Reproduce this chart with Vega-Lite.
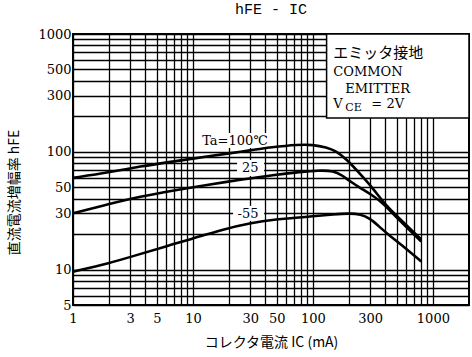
{
  "$schema": "https://vega.github.io/schema/vega-lite/v6.json",
  "width": 396,
  "height": 271,
  "autosize": {"type": "none"},
  "padding": {"left": 73, "top": 34, "right": 3, "bottom": 52},
  "background": "white",
  "title": {"text": "hFE - IC", "font": "Liberation Mono", "fontSize": 15, "fontWeight": "normal", "color": "black", "offset": 11, "anchor": "middle"},
  "config": {
    "view": {"stroke": "black", "strokeWidth": 2},
    "axis": {"gridColor": "black", "gridWidth": 1.3, "gridOpacity": 1, "ticks": false, "domain": false, "labelFont": "DejaVu Serif", "labelFontSize": 13, "labelColor": "black", "labelOverlap": false, "labelFlush": false, "titleColor": "black", "titleFontWeight": "normal", "titleFont": "Noto Sans CJK JP", "titleFontSize": 14}
  },
  "layer": [
    {
      "data": {"values": [
        {"Ic": 11.4, "Ic2": 44, "hFE": 107.7, "hFE2": 144.4},
        {"Ic": 23.3, "Ic2": 39.2, "hFE": 62.3, "hFE2": 85.2},
        {"Ic": 21.6, "Ic2": 39.2, "hFE": 25.9, "hFE2": 34.7}
      ]},
      "mark": {"type": "rect", "fill": "white", "stroke": null},
      "encoding": {
        "x": {"field": "Ic", "type": "quantitative", "scale": {"type": "log", "domain": [1, 2000], "nice": false},
          "axis": {"title": "コレクタ電流  IC (mA)", "grid": true,
            "values": [1,2,3,4,5,6,7,8,9,10,20,30,40,50,60,70,80,90,100,200,300,400,500,600,700,800,900,1000],
            "labelExpr": "indexof([1,3,5,10,30,50,100,300,1000], datum.value) >= 0 ? format(datum.value, 'd') : ''",
            "labelPadding": 7, "titleY": 37, "titleBaseline": "middle"}},
        "x2": {"field": "Ic2"},
        "y": {"field": "hFE", "type": "quantitative", "scale": {"type": "log", "domain": [5, 1000], "nice": false},
          "axis": {"title": "直流電流増幅率  hFE", "grid": true,
            "values": [5,6,7,8,9,10,20,30,40,50,60,70,80,90,100,200,300,400,500,600,700,800,900,1000],
            "labelExpr": "indexof([5,10,30,50,100,300,500,1000], datum.value) >= 0 ? format(datum.value, 'd') : ''",
            "labelPadding": 2, "titleX": -59, "titleY": 158, "titleAlign": "center", "titleBaseline": "middle"}},
        "y2": {"field": "hFE2"}
      }
    },
    {
      "data": {"values": [{"Ic": 130, "Ic2": 2000, "hFE": 194, "hFE2": 1000}]},
      "mark": {"type": "rect", "fill": "white", "stroke": "black", "strokeWidth": 1.5},
      "encoding": {
        "x": {"field": "Ic", "type": "quantitative"},
        "x2": {"field": "Ic2"},
        "y": {"field": "hFE", "type": "quantitative"},
        "y2": {"field": "hFE2"}
      }
    },
    {
      "data": {"values": [
        {"Ta": "100", "Ic": 1, "hFE": 60}, {"Ta": "100", "Ic": 2, "hFE": 67}, {"Ta": "100", "Ic": 3.6, "hFE": 75},
        {"Ta": "100", "Ic": 7, "hFE": 83}, {"Ta": "100", "Ic": 13, "hFE": 91}, {"Ta": "100", "Ic": 25, "hFE": 100},
        {"Ta": "100", "Ic": 47, "hFE": 110}, {"Ta": "100", "Ic": 75, "hFE": 115}, {"Ta": "100", "Ic": 100, "hFE": 115},
        {"Ta": "100", "Ic": 130, "hFE": 109}, {"Ta": "100", "Ic": 155, "hFE": 102}, {"Ta": "100", "Ic": 192, "hFE": 86},
        {"Ta": "100", "Ic": 250, "hFE": 64}, {"Ta": "100", "Ic": 311, "hFE": 50}, {"Ta": "100", "Ic": 415, "hFE": 34},
        {"Ta": "100", "Ic": 550, "hFE": 26}, {"Ta": "100", "Ic": 800, "hFE": 18},
        {"Ta": "25", "Ic": 1, "hFE": 30}, {"Ta": "25", "Ic": 2, "hFE": 36}, {"Ta": "25", "Ic": 3.6, "hFE": 41.6},
        {"Ta": "25", "Ic": 7, "hFE": 47}, {"Ta": "25", "Ic": 13, "hFE": 52.3}, {"Ta": "25", "Ic": 25, "hFE": 58},
        {"Ta": "25", "Ic": 47, "hFE": 63.6}, {"Ta": "25", "Ic": 80, "hFE": 67.5}, {"Ta": "25", "Ic": 110, "hFE": 69.5},
        {"Ta": "25", "Ic": 150, "hFE": 69}, {"Ta": "25", "Ic": 175, "hFE": 63}, {"Ta": "25", "Ic": 200, "hFE": 57},
        {"Ta": "25", "Ic": 250, "hFE": 49}, {"Ta": "25", "Ic": 311, "hFE": 43}, {"Ta": "25", "Ic": 385, "hFE": 36.5},
        {"Ta": "25", "Ic": 500, "hFE": 27.5}, {"Ta": "25", "Ic": 800, "hFE": 17.3},
        {"Ta": "-55", "Ic": 1, "hFE": 9.6}, {"Ta": "-55", "Ic": 2, "hFE": 11.3}, {"Ta": "-55", "Ic": 3.6, "hFE": 13.5},
        {"Ta": "-55", "Ic": 6, "hFE": 15.8}, {"Ta": "-55", "Ic": 9.4, "hFE": 18}, {"Ta": "-55", "Ic": 17.9, "hFE": 22},
        {"Ta": "-55", "Ic": 30, "hFE": 24.8}, {"Ta": "-55", "Ic": 47, "hFE": 26.6}, {"Ta": "-55", "Ic": 100, "hFE": 28.3},
        {"Ta": "-55", "Ic": 150, "hFE": 29.4}, {"Ta": "-55", "Ic": 200, "hFE": 30}, {"Ta": "-55", "Ic": 250, "hFE": 29.6},
        {"Ta": "-55", "Ic": 300, "hFE": 27}, {"Ta": "-55", "Ic": 343, "hFE": 24}, {"Ta": "-55", "Ic": 420, "hFE": 20},
        {"Ta": "-55", "Ic": 537, "hFE": 16.5}, {"Ta": "-55", "Ic": 800, "hFE": 11.7}
      ]},
      "mark": {"type": "line", "color": "black", "strokeWidth": 2.6, "interpolate": "basis"},
      "encoding": {
        "x": {"field": "Ic", "type": "quantitative"},
        "y": {"field": "hFE", "type": "quantitative"},
        "detail": {"field": "Ta", "type": "nominal"}
      }
    },
    {
      "data": {"values": [
        {"Ic": 22.4, "hFE": 124, "text": "Ta=100℃"},
        {"Ic": 30, "hFE": 72.5, "text": "25"},
        {"Ic": 28.8, "hFE": 29.9, "text": "-55"}
      ]},
      "mark": {"type": "text", "font": "DejaVu Serif", "fontSize": 13, "color": "black", "align": "center", "baseline": "middle"},
      "encoding": {
        "x": {"field": "Ic", "type": "quantitative"},
        "y": {"field": "hFE", "type": "quantitative"},
        "text": {"field": "text"}
      }
    },
    {
      "data": {"values": [{"Ic": 148, "hFE": 690, "text": "エミッタ接地"}]},
      "mark": {"type": "text", "font": "Noto Sans CJK JP", "fontSize": 15, "color": "black", "align": "left", "baseline": "middle"},
      "encoding": {
        "x": {"field": "Ic", "type": "quantitative"},
        "y": {"field": "hFE", "type": "quantitative"},
        "text": {"field": "text"}
      }
    },
    {
      "data": {"values": [
        {"Ic": 148, "hFE": 476, "text": "COMMON"},
        {"Ic": 186, "hFE": 341, "text": "EMITTER"},
        {"Ic": 148, "hFE": 255, "text": "V"}
      ]},
      "mark": {"type": "text", "font": "DejaVu Serif", "fontSize": 13, "color": "black", "align": "left", "baseline": "middle"},
      "encoding": {
        "x": {"field": "Ic", "type": "quantitative"},
        "y": {"field": "hFE", "type": "quantitative"},
        "text": {"field": "text"}
      }
    },
    {
      "data": {"values": [{"Ic": 148, "hFE": 255, "text": "CE"}]},
      "mark": {"type": "text", "font": "DejaVu Serif", "fontSize": 11, "color": "black", "align": "left", "baseline": "middle", "dx": 12, "dy": 4},
      "encoding": {
        "x": {"field": "Ic", "type": "quantitative"},
        "y": {"field": "hFE", "type": "quantitative"},
        "text": {"field": "text"}
      }
    },
    {
      "data": {"values": [{"Ic": 148, "hFE": 255, "text": "= 2V"}]},
      "mark": {"type": "text", "font": "DejaVu Serif", "fontSize": 13, "color": "black", "align": "left", "baseline": "middle", "dx": 38},
      "encoding": {
        "x": {"field": "Ic", "type": "quantitative"},
        "y": {"field": "hFE", "type": "quantitative"},
        "text": {"field": "text"}
      }
    }
  ]
}
